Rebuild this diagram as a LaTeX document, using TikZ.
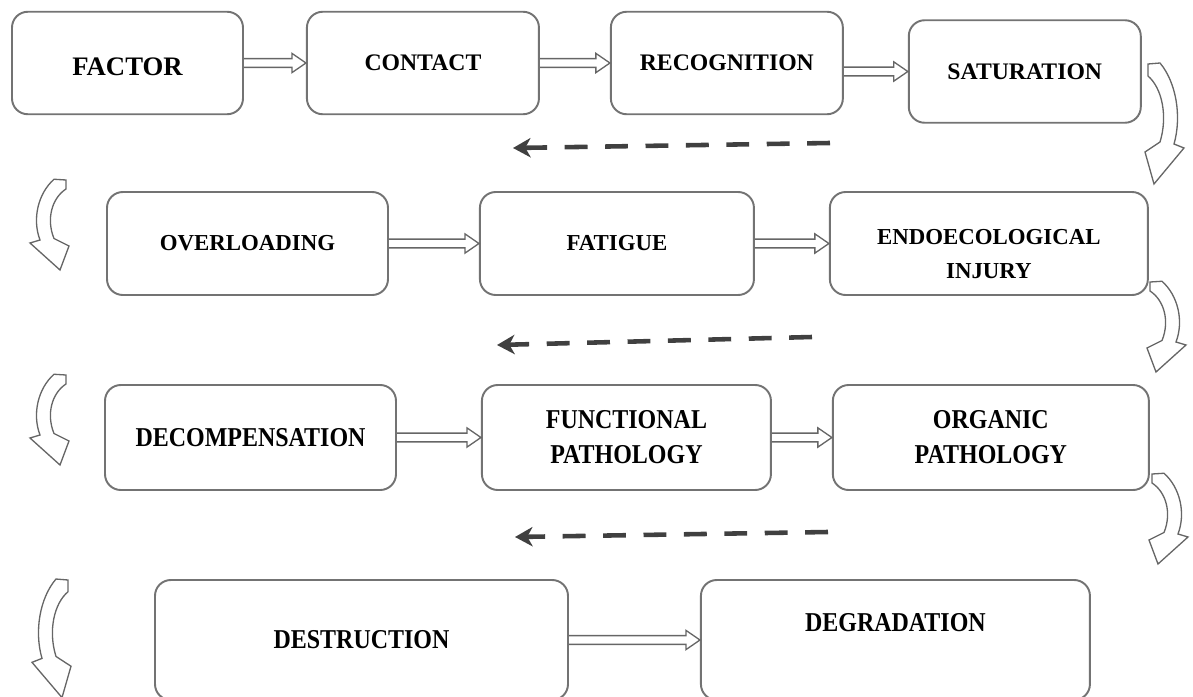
\documentclass[tikz,border=0pt]{standalone}
\usepackage{fontspec}
\setmainfont{Liberation Serif}
\newfontfamily\condfont[FakeStretch=0.88]{Liberation Serif}
\usetikzlibrary{positioning,calc,arrows.meta}

\newcommand{\flowto}[2]{%
  \draw[hollow] ($(#2.west -| #1.east)+(0,2.5pt)$) -- ($(#2.west)+(-8pt,2.5pt)$) -- ++(0,3pt)
    -- (#2.west) -- ++(-8pt,-5.5pt) -- ++(0,3pt) -- ($(#2.west -| #1.east)+(0,-2.5pt)$);}

\begin{document}
\begin{tikzpicture}[
    node distance=1.3cm,
    stage/.style={rectangle, rounded corners=9pt, draw=black!55, line width=1.1pt, align=center, font=\bfseries},
    top/.style={stage, minimum width=4.64cm, minimum height=2.05cm, font=\bfseries\fontsize{13.5}{17}\selectfont},
    mid/.style={stage, minimum height=2.06cm, font=\bfseries\fontsize{13}{19.5}\selectfont},
    low/.style={stage, minimum height=2.1cm, font=\condfont\bfseries\fontsize{15.5}{20}\selectfont},
    hollow/.style={draw=black!60, line width=0.75pt},
    dashback/.style={draw=black!75, line width=2.6pt, dash pattern=on 13pt off 10pt, -{Stealth[length=10pt,width=11pt,inset=3pt]}},
    swerve/.pic={\draw[hollow, fill=white] (0,0) -- (0.24,0.02) .. controls (0.56,-0.36) and (0.68,-1.04) .. (0.52,-1.6)
      -- (0.72,-1.68) -- (0.12,-2.4) -- (-0.06,-1.76) -- (0.24,-1.56) .. controls (0.40,-1.04) and (0.28,-0.48) .. (0,-0.24) -- cycle;}
]
\useasboundingbox (0,0) rectangle (23.86,-13.94);

\node[top, font=\bfseries\fontsize{15.2}{18}\selectfont, minimum width=4.62cm, text height=0.5cm] (factor) at (2.55,-1.26) {FACTOR};
\node[top, right=1.24cm of factor] (contact) {CONTACT};
\node[top, right=1.4cm of contact] (recog) {RECOGNITION};
\node[top, right=1.28cm of recog, yshift=-0.17cm] (satur) {SATURATION};
\flowto{factor}{contact}
\flowto{contact}{recog}
\flowto{recog}{satur}

\node[mid, minimum width=5.62cm] (overload) at (4.95,-4.87) {OVERLOADING};
\node[mid, minimum width=5.48cm, right=1.8cm of overload] (fatigue) {FATIGUE};
\node[mid, minimum width=6.36cm, text height=1.4cm, right=1.48cm of fatigue] (endo) {ENDOECOLOGICAL\\INJURY};
\flowto{overload}{fatigue}
\flowto{fatigue}{endo}

\node[low, minimum width=5.82cm] (decomp) at (5.01,-8.75) {DECOMPENSATION};
\node[low, minimum width=5.78cm, right=1.68cm of decomp] (funct) {FUNCTIONAL\\PATHOLOGY};
\node[low, minimum width=6.32cm, right=1.2cm of funct] (organ) {ORGANIC\\PATHOLOGY};
\flowto{decomp}{funct}
\flowto{funct}{organ}

\node[low, minimum width=8.26cm, minimum height=2.4cm] (destr) at (7.23,-12.8) {DESTRUCTION};
\node[low, minimum width=7.78cm, minimum height=2.4cm, text depth=0.72cm, right=2.62cm of destr] (degrad) {DEGRADATION};
\flowto{destr}{degrad}

\coordinate (d1a) at (16.6,-2.86);  \coordinate (d1b) at (10.26,-2.96);
\coordinate (d2a) at (16.24,-6.74); \coordinate (d2b) at (9.94,-6.9);
\coordinate (d3a) at (16.56,-10.64); \coordinate (d3b) at (10.3,-10.74);
\draw[dashback] (d1a) -- (d1b);
\draw[dashback] (d2a) -- (d2b);
\draw[dashback] (d3a) -- (d3b);

\pic at (22.96,-1.28) {swerve};
\pic[yscale=0.75] at (23.0,-5.64) {swerve};
\pic[yscale=0.75] at (23.04,-9.48) {swerve};
\pic[xscale=-1, yscale=0.75] at (1.32,-3.6) {swerve};
\pic[xscale=-1, yscale=0.75] at (1.32,-7.5) {swerve};
\pic[xscale=-1, yscale=0.98] at (1.36,-11.6) {swerve};
\end{tikzpicture}
\end{document}
